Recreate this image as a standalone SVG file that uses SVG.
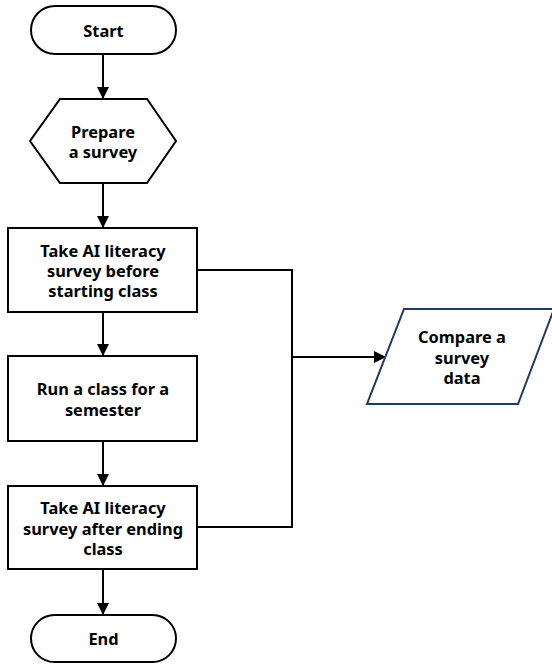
<svg xmlns="http://www.w3.org/2000/svg" width="552" height="666" viewBox="0 0 552 666">
<defs>
<style>
.s{fill:#fff;stroke:#000;stroke-width:2}
.p{fill:#fff;stroke:#1f3864;stroke-width:2}
.c{fill:none;stroke:#000;stroke-width:2}
text{font-family:"Noto Sans","Open Sans",sans-serif;font-weight:bold;font-size:16.4px;fill:#000;text-anchor:middle}
</style>
<marker id="a" markerWidth="12" markerHeight="12" viewBox="0 0 12 12" refX="12" refY="6" orient="auto" markerUnits="userSpaceOnUse">
<path d="M0,0 L12,6 L0,12 Z" fill="#000"/>
</marker>
</defs>
<g id="connectors">
<line class="c" x1="103" y1="54" x2="103" y2="99" marker-end="url(#a)"/>
<line class="c" x1="103" y1="183" x2="103" y2="228" marker-end="url(#a)"/>
<line class="c" x1="103" y1="312" x2="103" y2="356" marker-end="url(#a)"/>
<line class="c" x1="103" y1="441" x2="103" y2="486" marker-end="url(#a)"/>
<line class="c" x1="103" y1="569" x2="103" y2="615" marker-end="url(#a)"/>
<polyline class="c" points="197,270 292,270 292,527 197,527"/>
<line class="c" x1="292" y1="357" x2="386" y2="357" marker-end="url(#a)"/>
</g>
<g id="start">
<rect class="s" x="31" y="6" width="145" height="48" rx="24"/>
<text x="103.5" y="37">Start</text>
</g>
<g id="prepare">
<polygon class="s" points="60,99 147,99 176,141 147,183 60,183 30,141"/>
<text x="103" y="138">Prepare</text>
<text x="103" y="158">a survey</text>
</g>
<g id="before">
<rect class="s" x="8" y="228" width="189" height="84"/>
<text x="103" y="257">Take AI literacy</text>
<text x="103" y="277">survey before</text>
<text x="103" y="297">starting class</text>
</g>
<g id="run">
<rect class="s" x="8" y="356" width="189" height="85"/>
<text x="103" y="395">Run a class for a</text>
<text x="103" y="416">semester</text>
</g>
<g id="after">
<rect class="s" x="8" y="486" width="189" height="83"/>
<text x="103" y="514">Take AI literacy</text>
<text x="103" y="535">survey after ending</text>
<text x="103" y="555">class</text>
</g>
<g id="end">
<rect class="s" x="31" y="615" width="145" height="47" rx="23.5"/>
<text x="103.5" y="645">End</text>
</g>
<g id="compare">
<polygon class="p" points="404,309 554,309 518,404 367,404"/>
<text x="462" y="343">Compare a</text>
<text x="462" y="364">survey</text>
<text x="462" y="384">data</text>
</g>
</svg>
